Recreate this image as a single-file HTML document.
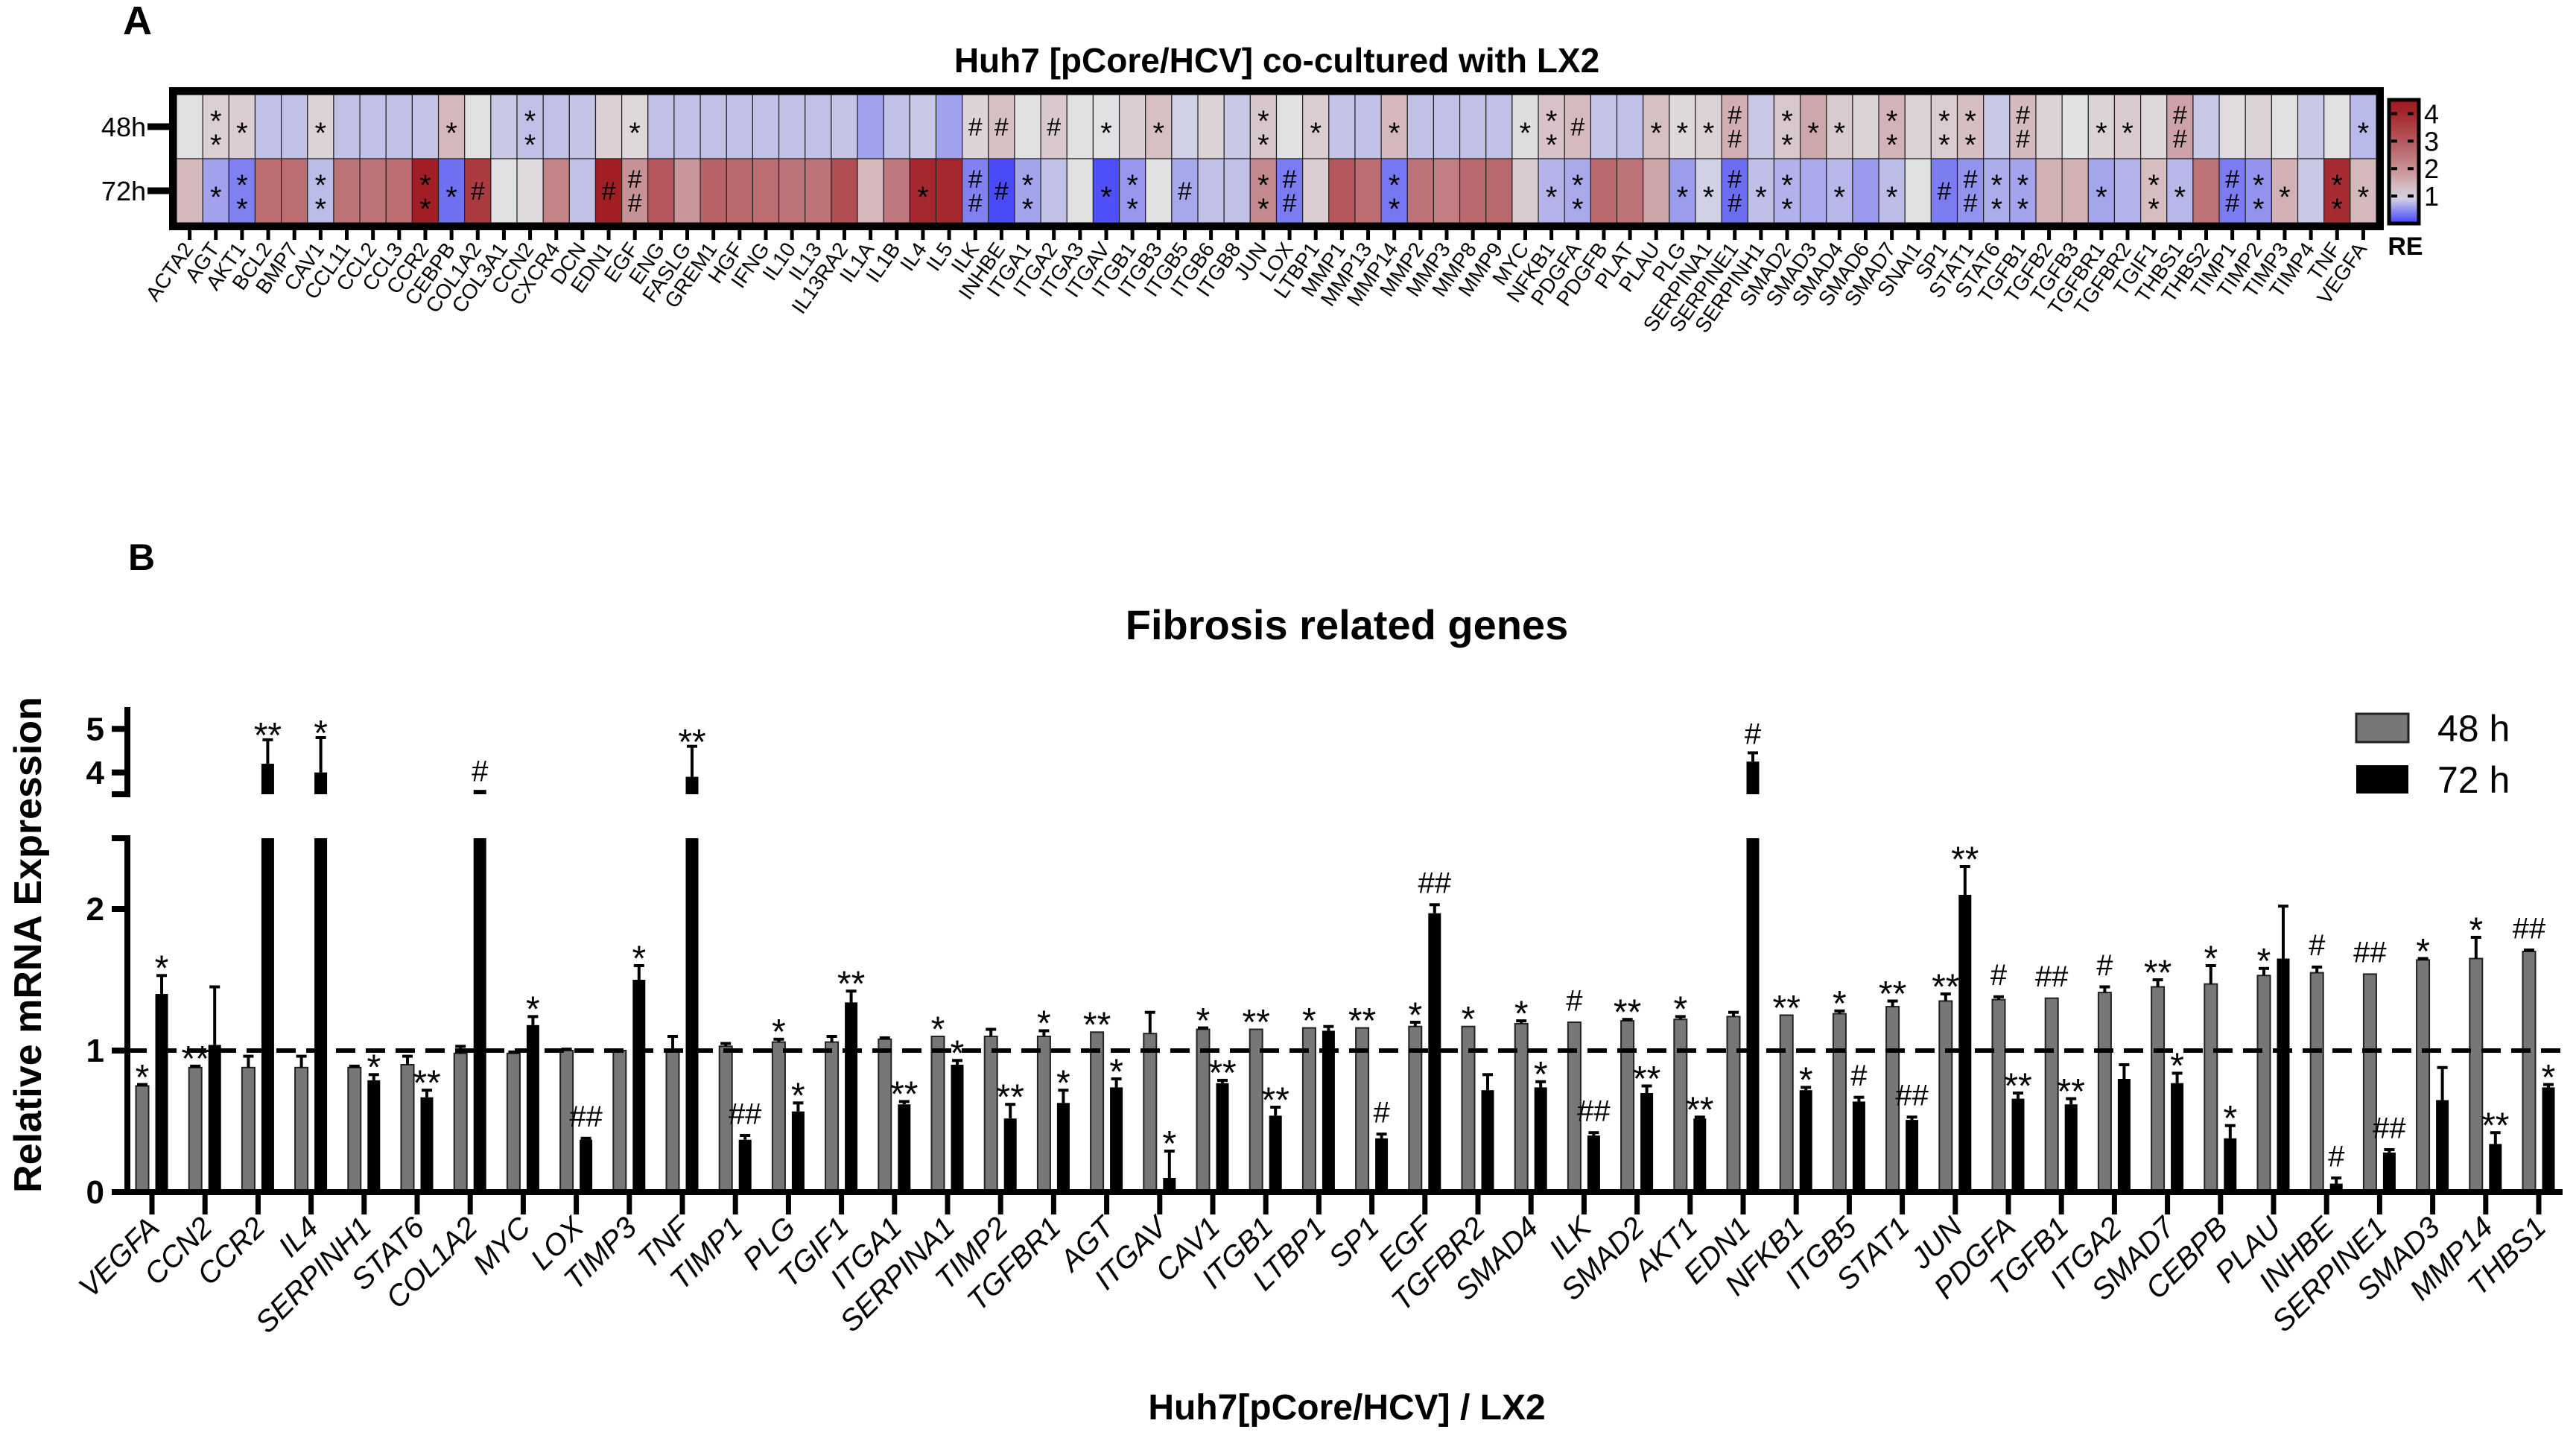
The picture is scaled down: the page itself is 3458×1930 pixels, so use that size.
<!DOCTYPE html>
<html><head><meta charset="utf-8"><style>
html,body{margin:0;padding:0;background:#fff;}
svg{display:block;font-family:"Liberation Sans",sans-serif;}
</style></head><body>
<svg id="fig" width="3458" height="1930" viewBox="0 0 3458 1930" xmlns="http://www.w3.org/2000/svg">
<text x="165" y="46" font-size="54" font-weight="bold">A</text>
<text x="1714" y="97" font-size="46" font-weight="bold" text-anchor="middle">Huh7 [pCore/HCV]  co-cultured with LX2</text>
<g id="heat"></g>
<text x="172" y="765" font-size="50" font-weight="bold">B</text>
<text x="1808" y="858" font-size="56" font-weight="bold" text-anchor="middle">Fibrosis related genes</text>
<text transform="translate(55,1268) rotate(-90)" font-size="52" font-weight="bold" text-anchor="middle">Relative mRNA Expression</text>
<text x="1808" y="1905" font-size="48" font-weight="bold" text-anchor="middle">Huh7[pCore/HCV] / LX2</text>
<g id="bars"></g>
<g>
<rect x="3163" y="958" width="70" height="38" fill="#777" stroke="#222" stroke-width="3"/>
<text x="3272" y="995" font-size="50">48 h</text>
<rect x="3163" y="1027" width="70" height="38" fill="#000"/>
<text x="3272" y="1064" font-size="50">72 h</text>
</g>
</svg>
<script>
// ---------- Heatmap data ----------
const heatGenes = ["ACTA2","AGT","AKT1","BCL2","BMP7","CAV1","CCL11","CCL2","CCL3","CCR2","CEBPB","COL1A2","COL3A1","CCN2","CXCR4","DCN","EDN1","EGF","ENG","FASLG","GREM1","HGF","IFNG","IL10","IL13","IL13RA2","IL1A","IL1B","IL4","IL5","ILK","INHBE","ITGA1","ITGA2","ITGA3","ITGAV","ITGB1","ITGB3","ITGB5","ITGB6","ITGB8","JUN","LOX","LTBP1","MMP1","MMP13","MMP14","MMP2","MMP3","MMP8","MMP9","MYC","NFKB1","PDGFA","PDGFB","PLAT","PLAU","PLG","SERPINA1","SERPINE1","SERPINH1","SMAD2","SMAD3","SMAD4","SMAD6","SMAD7","SNAI1","SP1","STAT1","STAT6","TGFB1","TGFB2","TGFB3","TGFBR1","TGFBR2","TGIF1","THBS1","THBS2","TIMP1","TIMP2","TIMP3","TIMP4","TNF","VEGFA"];
const heat48 = [1.0,1.13,1.15,0.8,0.8,1.1,0.8,0.8,0.8,0.82,1.4,1.0,0.85,0.8,0.8,0.82,1.12,1.05,0.8,0.8,0.8,0.8,0.8,0.8,0.8,0.82,0.6,0.8,0.85,0.6,1.1,1.3,1.0,1.2,1.0,1.0,1.15,1.3,0.9,1.1,0.85,1.22,1.0,1.16,0.82,0.8,1.4,0.8,0.8,0.8,0.8,1.02,1.25,1.36,0.82,0.8,1.3,1.05,1.1,1.54,0.85,1.21,1.64,1.19,1.1,1.45,1.1,1.16,1.31,0.85,1.37,1.1,1.0,1.1,1.17,1.06,1.7,0.85,1.03,1.1,1.0,0.85,1.0,0.75];
const heat72 = [1.4,0.6,0.4,2.6,2.6,0.77,2.5,2.5,2.6,4.2,0.3,3.6,1.0,1.04,2.2,0.8,4.2,1.97,3.0,1.9,2.8,2.7,2.6,2.5,2.5,3.2,1.4,2.4,4.0,4.0,0.4,0.06,0.62,0.8,1.0,0.1,0.54,1.0,0.64,0.8,0.8,2.1,0.37,1.14,3.0,2.6,0.34,2.5,2.3,2.7,2.7,1.18,0.72,0.66,2.7,2.5,1.65,0.57,0.9,0.28,0.79,0.7,0.65,0.74,0.55,0.77,1.0,0.38,0.51,0.67,0.62,1.5,1.5,0.63,0.72,1.34,0.74,2.5,0.37,0.52,1.5,0.85,3.9,1.4];
const heatSig48 = ["","**","*","","","*","","","","","*","","","**","","","","*","","","","","","","","","","","","","#","#","","#","","*","","*","","","","**","","*","","","*","","","","","*","**","#","","","*","*","*","##","","**","*","*","","**","","**","**","","##","","","*","*","","##","","","","","","","*"];
const heatSig72 = ["","*","**","","","**","","","","**","*","#","","","","","#","##","","","","","","","","","","","*","","##","#","**","","","*","**","","#","","","**","##","","","","**","","","","","","*","**","","","","*","*","##","*","**","","*","","*","","#","##","**","**","","","*","","**","*","","##","**","*","","**","*"];
const cbTicks = [1,2,3,4];

// ---------- Bar chart data ----------
const barGenes = ["VEGFA","CCN2","CCR2","IL4","SERPINH1","STAT6","COL1A2","MYC","LOX","TIMP3","TNF","TIMP1","PLG","TGIF1","ITGA1","SERPINA1","TIMP2","TGFBR1","AGT","ITGAV","CAV1","ITGB1","LTBP1","SP1","EGF","TGFBR2","SMAD4","ILK","SMAD2","AKT1","EDN1","NFKB1","ITGB5","STAT1","JUN","PDGFA","TGFB1","ITGA2","SMAD7","CEBPB","PLAU","INHBE","SERPINE1","SMAD3","MMP14","THBS1"];
const val48 = [0.75,0.88,0.88,0.88,0.88,0.9,0.98,0.98,1.0,1.0,1.0,1.03,1.06,1.06,1.08,1.1,1.1,1.1,1.13,1.12,1.15,1.15,1.16,1.16,1.17,1.17,1.19,1.2,1.21,1.22,1.24,1.25,1.26,1.31,1.35,1.36,1.37,1.41,1.45,1.47,1.53,1.55,1.54,1.64,1.65,1.7];
const err48 = [0.76,0.89,0.96,0.96,0.89,0.96,1.03,0.99,1.01,1.0,1.1,1.05,1.08,1.1,1.09,1.1,1.15,1.14,1.13,1.27,1.16,1.15,1.16,1.16,1.2,1.17,1.21,1.2,1.22,1.24,1.27,1.25,1.28,1.35,1.4,1.38,1.37,1.45,1.5,1.6,1.58,1.59,1.54,1.65,1.8,1.71];
const val72 = [1.4,1.04,4.2,4.0,0.79,0.67,3.6,1.18,0.37,1.5,3.9,0.37,0.57,1.34,0.62,0.9,0.52,0.63,0.74,0.1,0.77,0.54,1.14,0.38,1.97,0.72,0.74,0.4,0.7,0.52,4.25,0.72,0.64,0.51,2.1,0.66,0.62,0.8,0.77,0.38,1.65,0.06,0.28,0.65,0.34,0.74];
const err72 = [1.53,1.45,4.75,4.8,0.83,0.72,3.6,1.24,0.38,1.6,4.6,0.4,0.63,1.42,0.64,0.93,0.62,0.72,0.8,0.29,0.79,0.6,1.17,0.41,2.03,0.83,0.78,0.42,0.75,0.53,4.45,0.74,0.67,0.53,2.3,0.7,0.66,0.9,0.84,0.47,2.02,0.1,0.3,0.88,0.42,0.76];
const sig48 = ["*","**","","","","","","","","","","","*","","","*","","*","**","","*","**","*","**","*","*","*","#","**","*","","**","*","**","**","#","##","#","**","*","*","#","##","*","*","##"];
const sig72 = ["*","","**","*","*","**","#","*","##","*","**","##","*","**","**","*","**","*","*","*","**","**","","#","##","","*","##","**","**","#","*","#","##","**","**","**","","*","*","","#","##","","**","*"];
const yTicksLow = [0,1,2];
const yTicksHigh = [4,5];

const NS = "http://www.w3.org/2000/svg";
function mk(tag, parent, attrs){
  const e = document.createElementNS(NS, tag);
  for (const k in attrs) e.setAttribute(k, attrs[k]);
  parent.appendChild(e);
  return e;
}

// ---------- Heatmap ----------
(function(){
  const g = document.getElementById('heat');
  const L = 237, R = 3190, top = 127, mid = 213, bot = 299;
  const cw = (R - L) / heatGenes.length;
  const xc = i => L + cw * (i + 0.5);
  function color(v){
    let a=[225,225,228], b;
    let t;
    if (v <= 1){ b=[64,64,250]; t = Math.max(0, Math.min(1, 1 - v)); }
    else { b=[160,26,32]; t = Math.pow(Math.min(1,(v-1)/3.3),0.75); }
    const c = a.map((x,k)=>Math.round(x+(b[k]-x)*t));
    return `rgb(${c[0]},${c[1]},${c[2]})`;
  }
  function sigText(s, x, y0, y1, name){
    if (!s) return;
    const chars = s.split('');
    const n = chars.length, ym = (y0+y1)/2;
    chars.forEach((ch,k)=>{
      const y = ym + (k - (n-1)/2) * 32 + 12;
      const t = mk('text', g, {x:x, y: ch==='*'? y+10 : y, 'font-size':ch==='*'?40:34, 'text-anchor':'middle'});
      
      
      t.textContent = ch;
    });
  }
  heatGenes.forEach((gene,i)=>{
    const x0 = L + cw*i;
    const c1 = mk('rect', g, {x:x0, y:top, width:cw, height:mid-top, fill:color(heat48[i]), stroke:'#222', 'stroke-width':1.2});
    
    
    const c2 = mk('rect', g, {x:x0, y:mid, width:cw, height:bot-mid, fill:color(heat72[i]), stroke:'#222', 'stroke-width':1.2});
    
    
    sigText(heatSig48[i], xc(i), top, mid, 'heat-sig-48h');
    sigText(heatSig72[i], xc(i), mid, bot, 'heat-sig-72h');
    const tk = mk('line', g, {x1:xc(i), x2:xc(i), y1:bot, y2:322, stroke:'#000', 'stroke-width':5});
    
    
    const lb = mk('text', g, {transform:`translate(${xc(i)+6},${334}) rotate(-55)`, 'font-size':28, 'text-anchor':'end'});
    
    
    lb.textContent = gene;
  });
  const fr = mk('rect', g, {x:L-5, y:top-5, width:R-L+10, height:bot-top+10, fill:'none', stroke:'#000', 'stroke-width':10});
  
  
  [["48h",(top+mid)/2],["72h",(mid+bot)/2]].forEach(([lab,y])=>{
    const t = mk('text', g, {x:196, y:y+13, 'font-size':36, 'text-anchor':'end'});
    
    
    t.textContent = lab;
    const tk = mk('line', g, {x1:198, x2:L, y1:y, y2:y, stroke:'#000', 'stroke-width':9});
    
    
  });
  const defs = mk('defs', g, {});
  const lg = mk('linearGradient', defs, {id:'cbg', x1:0, y1:1, x2:0, y2:0});
  const cbMin = 0, cbMax = 4.5;
  for (let k=0;k<=10;k++){
    const v = cbMin + (cbMax-cbMin)*k/10;
    mk('stop', lg, {offset: k/10, 'stop-color': color(v)});
  }
  const cbTop = 134, cbBot = 300;
  const cbY = v => cbBot - (v-cbMin)/(cbMax-cbMin)*(cbBot-cbTop);
  const cb = mk('rect', g, {x:3207, y:cbTop, width:40, height:cbBot-cbTop, fill:'url(#cbg)', stroke:'#000', 'stroke-width':5});
  
  
  cbTicks.forEach(v=>{
    const y = cbY(v);
    const d = mk('line', g, {x1:3210, x2:3244, y1:y, y2:y, stroke:'#000', 'stroke-width':4, 'stroke-dasharray':'8 14'});
    
    
    const t = mk('text', g, {x:3254, y:y+13, 'font-size':36});
    
    
    t.textContent = v;
  });
  const re = mk('text', g, {x:3229, y:342, 'font-size':34, 'font-weight':'bold', 'text-anchor':'middle'});
  
  
  re.textContent = 'RE';
})();

// ---------- Bar chart ----------
(function(){
  const g = document.getElementById('bars');
  const axX = 171, x0 = 204, dx = 71.2, xEnd = 3440;
  const y0 = 1600, pu = 190, lowMax = 2.5;
  const hiBase = 3.5, hiY = 1066, hpu = 58.5, hiMax = 5.5;
  const yLow = v => y0 - Math.min(v, lowMax) * pu;
  const yHigh = v => hiY - (Math.min(v, hiMax) - hiBase) * hpu;
  const yAny = v => v <= lowMax ? yLow(v) : (v >= hiBase ? yHigh(v) : yLow(lowMax));
  const xc = i => x0 + dx * i;
  const bw = 17;

  let a = mk('line', g, {x1:axX, x2:axX, y1:y0+4, y2:yLow(lowMax), stroke:'#000', 'stroke-width':8});
   
  a = mk('line', g, {x1:axX, x2:axX, y1:yHigh(hiBase), y2:yHigh(hiMax), stroke:'#000', 'stroke-width':8});
   
  [yLow(lowMax), yHigh(hiBase)].forEach(y=>{
    const e = mk('line', g, {x1:150, x2:axX+4, y1:y, y2:y, stroke:'#000', 'stroke-width':8});
     
  });
  yTicksLow.forEach(v=>{
    const y = yLow(v);
    const t = mk('line', g, {x1:150, x2:axX, y1:y, y2:y, stroke:'#000', 'stroke-width':8});
     
    const l = mk('text', g, {x:140, y:y+15, 'font-size':44, 'font-weight':'bold', 'text-anchor':'end'});
     
    l.textContent = v;
  });
  yTicksHigh.forEach(v=>{
    const y = yHigh(v);
    const t = mk('line', g, {x1:150, x2:axX, y1:y, y2:y, stroke:'#000', 'stroke-width':8});
     
    const l = mk('text', g, {x:140, y:y+15, 'font-size':44, 'font-weight':'bold', 'text-anchor':'end'});
     
    l.textContent = v;
  });

  function errBar(x, vTop, vErr){
    if (vErr <= vTop + 0.005) return;
    const ya = yAny(vTop), yb = yAny(vErr);
    const l = mk('line', g, {x1:x, x2:x, y1:ya, y2:yb, stroke:'#000', 'stroke-width':4});
     
    const c = mk('line', g, {x1:x-7, x2:x+7, y1:yb, y2:yb, stroke:'#000', 'stroke-width':4});
     
  }
  function sig(x, v, s, name){
    if (!s) return;
    const y = yAny(v) - 10 + (s[0]==='*' ? 22 : 0);
    const t = mk('text', g, {x:x, y:y, 'font-size':s[0]==='*'?48:40, 'text-anchor':'middle'});
     
    t.textContent = s;
  }

  barGenes.forEach((gene,i)=>{
    const c = xc(i), xg = c - 13, xb = c + 13;
    const r1 = mk('rect', g, {x:xg-bw/2, y:yLow(val48[i]), width:bw, height:y0-yLow(val48[i]), fill:'#777', stroke:'#222', 'stroke-width':2});
    
    
    errBar(xg, val48[i], err48[i]);
    sig(xg, Math.max(val48[i], err48[i]) + 0.03, sig48[i], 'sig-48h');
    const v = val72[i];
    const r2 = mk('rect', g, {x:xb-bw/2, y:yLow(v), width:bw, height:y0-yLow(v), fill:'#000'});
    
    
    if (v > hiBase){
      const r3 = mk('rect', g, {x:xb-bw/2, y:yHigh(v), width:bw, height:Math.max(3, yHigh(hiBase)-yHigh(v)), fill:'#000'});
      
      
    }
    errBar(xb, v, err72[i]);
    sig(xb, Math.max(v, err72[i]) + 0.03, sig72[i], 'sig-72h');
    const tk = mk('line', g, {x1:c, x2:c, y1:y0, y2:y0+30, stroke:'#000', 'stroke-width':7});
     
    const lb = mk('text', g, {transform:`translate(${c+12},${y0+50}) rotate(-45)`, 'font-size':40, 'font-style':'italic', 'text-anchor':'end'});
     
    lb.textContent = gene;
  });

  const xa = mk('line', g, {x1:axX-4, x2:xEnd, y1:y0, y2:y0, stroke:'#000', 'stroke-width':8});
   
  const ref = mk('line', g, {x1:axX, x2:xEnd, y1:yLow(1), y2:yLow(1), stroke:'#000', 'stroke-width':6, 'stroke-dasharray':'26 14'});
   
})();
</script>
</body></html>
